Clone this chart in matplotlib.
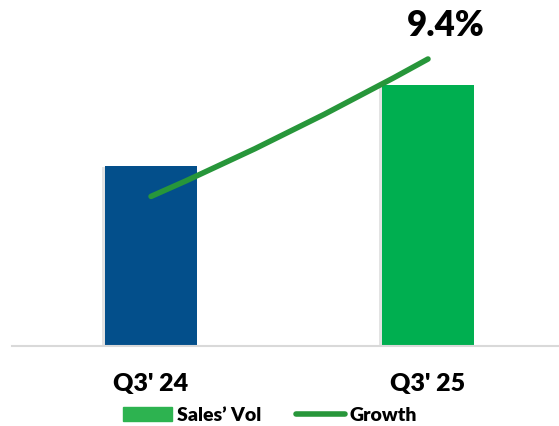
import matplotlib.pyplot as plt
from matplotlib.path import Path
from matplotlib.patches import PathPatch
from matplotlib.lines import Line2D
from matplotlib.patches import Patch
import matplotlib.patheffects as pe

# data
quarters = ["Q3' 24", "Q3' 25"]
sales_vol = [180, 261]
growth = [4.9, 9.4]
growth_label = "9.4%"

bar_colors = ['#034F8B', '#00AF50']
line_color = '#27963A'

plt.rcParams['font.family'] = ['Lato', 'DejaVu Sans']
plt.rcParams['font.weight'] = 'heavy'

fig = plt.figure(figsize=(5.59, 4.27), dpi=100)
ax = fig.add_axes([12 / 559, 80 / 427, 547 / 559, 347 / 427])

x = range(len(quarters))
ax.bar(x, sales_vol, width=0.332, color=bar_colors, zorder=2,
       path_effects=[pe.SimplePatchShadow(offset=(-2, -1), shadow_rgbFace='#B0B0B0', alpha=0.35),
                     pe.Normal()])
ax.set_xlim(-0.502, 1.473)
ax.set_ylim(0, 347)
ax.set_yticks([])
ax.set_xticks(list(x))
ax.set_xticklabels(quarters, fontsize=18, fontweight='heavy')
ax.tick_params(axis='x', length=0, pad=19)
for s in ['top', 'left', 'right']:
    ax.spines[s].set_visible(False)
ax.spines['bottom'].set_color('#D9D9D9')
ax.spines['bottom'].set_linewidth(1.5)

ax2 = ax.twinx()
ax2.set_ylim(0, 9.4 * 347 / 287)
ax2.axis('off')

# smoothed growth line (slight bend like the Excel smoothing)
x0, x1 = 0, 1
y0, y1 = growth
ctrl = (0.5, y0 + (y1 - y0) * 0.44)
path = Path([(x0, y0), ctrl, (x1, y1)], [Path.MOVETO, Path.CURVE3, Path.CURVE3])
ax2.add_patch(PathPatch(path, fill=False, edgecolor=line_color, lw=4,
                        capstyle='round', zorder=3))
ax2.annotate(growth_label, (x1, y1), xytext=(13, 25), textcoords='offset points',
             ha='center', va='center', fontsize=25, fontweight='heavy')

handles = [Patch(color='#2DB350'), Line2D([], [], color=line_color, lw=4, solid_capstyle='round')]
fig.legend(handles, ['Sales’ Vol', 'Growth'], loc='center', bbox_to_anchor=(0.483, 11 / 427),
           ncol=2, frameon=False, handlelength=2.5, handleheight=0.7,
           handletextpad=0.25, columnspacing=1.8, prop={'weight': 'heavy', 'size': 14})

fig.savefig('out.png', dpi=100)
